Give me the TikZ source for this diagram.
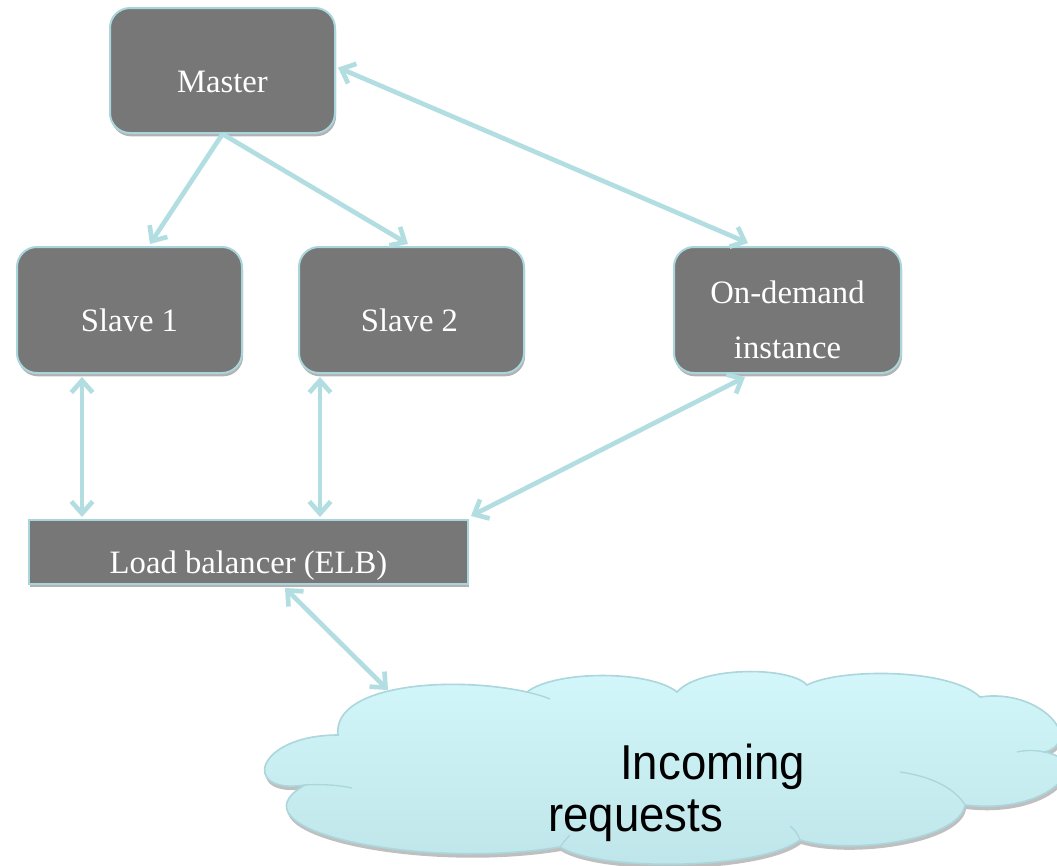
\documentclass[tikz,border=0pt]{standalone}
\usepackage{fontspec}
\setmainfont{Liberation Serif}
\newfontfamily\cloudfont[FakeStretch=0.93]{Liberation Sans}
\usetikzlibrary{arrows.meta,calc,shadows}
\definecolor{boxgray}{RGB}{119,119,119}
\definecolor{edgeblue}{RGB}{168,214,220}
\definecolor{arrowblue}{RGB}{178,222,226}
\definecolor{cloudtop}{RGB}{211,247,251}
\definecolor{cloudbot}{RGB}{190,229,233}
\definecolor{cloudedge}{RGB}{170,214,220}
\begin{document}
\begin{tikzpicture}[x=0.75pt,y=-0.75pt,
  softshadow/.style={drop shadow={shadow xshift=0.8pt, shadow yshift=-2.5pt, opacity=0.3, fill=black}},
  box/.style={draw=edgeblue, line width=1.5pt, fill=boxgray, rounded corners=15pt, inner sep=0pt, softshadow},
  flatbox/.style={draw=edgeblue, line width=1.5pt, fill=boxgray, inner sep=0pt, softshadow},
  lbl/.style={text=white, inner sep=0pt, font=\fontsize{24.5pt}{29pt}\selectfont},
  cloudtxt/.style={text=black, inner sep=0pt, font=\cloudfont\fontsize{36.75pt}{41pt}\selectfont},
  cloudshape/.style={top color=cloudtop, bottom color=cloudbot, draw=cloudedge, line width=1.2pt,
     drop shadow={shadow xshift=0.8pt, shadow yshift=-3pt, opacity=0.25, fill=black}},
  innerline/.style={draw=cloudedge, line width=1pt},
  conn/.style={draw=arrowblue, line width=3.5pt},
  >={Straight Barb[length=9pt,width=16pt]}]
\useasboundingbox (0,0) rectangle (1057,865);

% cloud
\path[cloudshape] (305,785)
  .. controls (240,795) and (255,735) .. (338,735)
  .. controls (332,685) and (450,675) .. (527,692)
  .. controls (555,670) and (650,670) .. (677,692)
  .. controls (700,666) and (790,666) .. (807,685)
  .. controls (840,668) and (950,668) .. (980,697)
  .. controls (1040,688) and (1085,740) .. (1045,752)
  .. controls (1095,762) and (1050,815) .. (965,805)
  .. controls (960,840) and (850,855) .. (800,840)
  .. controls (760,870) and (600,872) .. (560,847)
  .. controls (420,870) and (225,830) .. cycle;
\draw[innerline] (305,785) .. controls (322,784) and (338,785) .. (352,788);
\draw[innerline] (527,692) .. controls (535,694) and (543,696) .. (550,699);
\draw[innerline] (1045,752) .. controls (1035,750) and (1025,750) .. (1017,752);
\draw[innerline] (965,805) .. controls (955,788) and (930,776) .. (900,772);
\draw[innerline] (800,840) .. controls (798,834) and (795,830) .. (790,826);
\draw[innerline] (560,847) .. controls (563,843) and (566,839) .. (570,835);
\coordinate (cloudin) at (388,690);

% boxes
\node[box, minimum width=168.75pt, minimum height=93.75pt] (master) at (222.5,70.5) {};
\node[box, minimum width=168.75pt, minimum height=94.5pt] (slave1) at (129.5,310) {};
\node[box, minimum width=168.75pt, minimum height=94.5pt] (slave2) at (411.5,310) {};
\node[box, minimum width=170.25pt, minimum height=94.5pt] (ondemand) at (787.5,310) {};
\node[flatbox, minimum width=329.25pt, minimum height=48pt] (lb) at (248.5,552) {};

% texts
\node[lbl, anchor=base] (mastertext) at ($(master.center)+(0,21.5)$) {Master};
\node[lbl, anchor=base] (slave1text) at ($(slave1.center)+(0,21)$) {Slave 1};
\node[lbl, anchor=base] (slave2text) at ($(slave2.center)+(-2,21)$) {Slave 2};
\node[lbl, align=center, font=\fontsize{24.5pt}{41.25pt}\selectfont] (ondemandtext) at (787.5,320) {On-demand\\instance};
\node[lbl, anchor=base] (lbtext) at ($(lb.center)+(0,21)$) {Load balancer (ELB)};
\node[cloudtxt, anchor=base west] (incoming) at (620,779) {Incoming};
\node[cloudtxt, anchor=base west] (requests) at (548,831) {requests};

% connectors
\draw[conn, ->] (master.south) -- ($(slave1.north)+(20.5,-2)$);
\draw[conn, ->] (master.south) -- ($(slave2.north)+(-3.5,-2)$);
\draw[conn, <->] ($(master.east)+(2,-3)$) -- ($(ondemand.north)+(-39.5,-3)$);
\coordinate (s1b) at ($(slave1.south)+(-47.5,3)$);
\coordinate (s2b) at ($(slave2.south)+(-91.5,3)$);
\draw[conn, <->] (s1b) -- ($(s1b |- lb.north)+(0,-2)$);
\draw[conn, <->] (s2b) -- ($(s2b |- lb.north)+(0,-2)$);
\draw[conn, <->] ($(ondemand.south)+(-42.5,3)$) -- ($(lb.north east)+(2,-3)$);
\draw[conn, <->] ($(lb.south)+(36.5,3)$) -- (cloudin);
\end{tikzpicture}
\end{document}
